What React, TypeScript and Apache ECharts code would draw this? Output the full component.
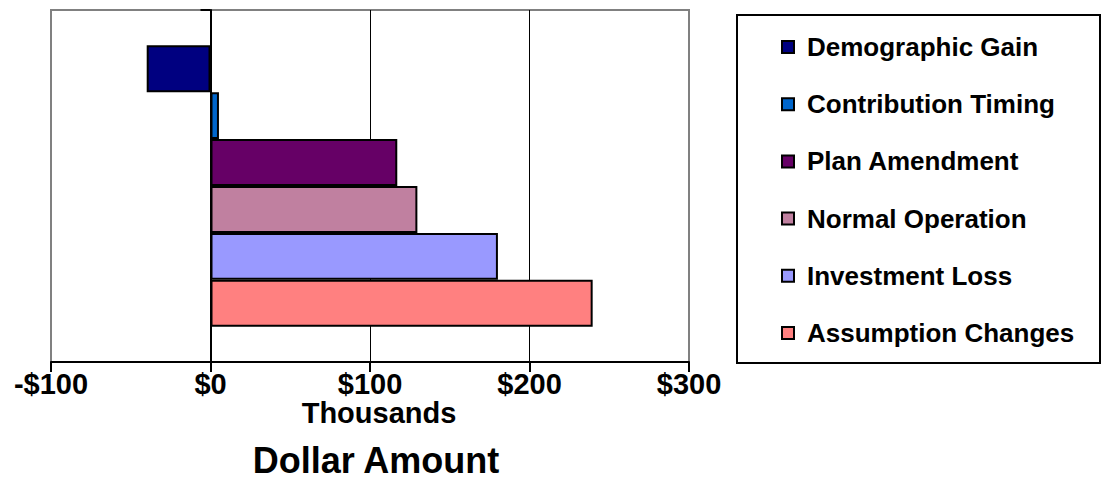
import React, { useEffect, useRef } from "react";
import * as echarts from "echarts";

const seriesNames = [
  "Demographic Gain",
  "Contribution Timing",
  "Plan Amendment",
  "Normal Operation",
  "Investment Loss",
  "Assumption Changes",
];
const seriesValues = [-40, 5.3, 117.1, 129.7, 180.2, 239.6];
const seriesColors = ["#000080", "#0066CC", "#660066", "#C080A0", "#9999FF", "#FF8080"];
const categories = [""];
const xTicks = { min: -100, max: 300, interval: 100 };

const FONT = "Arial, 'Liberation Sans', Helvetica, sans-serif";

export default function App() {
  const ref = useRef<HTMLDivElement>(null);
  useEffect(() => {
    if (!ref.current) return;
    const chart = echarts.init(ref.current, null, { renderer: "svg" });
    chart.setOption({
      animation: false,
      backgroundColor: "#ffffff",
      grid: {
        left: 51,
        top: 10,
        width: 638,
        height: 352,
        show: true,
        borderColor: "#808080",
        borderWidth: 2,
        backgroundColor: "transparent",
      },
      xAxis: {
        type: "value",
        min: xTicks.min,
        max: xTicks.max,
        interval: xTicks.interval,
        axisLine: { show: true, onZero: false, lineStyle: { color: "#000", width: 2 } },
        axisTick: { show: true, length: 10, lineStyle: { color: "#000", width: 2 } },
        splitLine: { show: true, showMinLine: false, showMaxLine: false, lineStyle: { color: "#000", width: 1 } },
        axisLabel: {
          show: true,
          margin: 22,
          verticalAlign: "middle",
          color: "#000",
          fontFamily: FONT,
          fontWeight: "bold",
          fontSize: 29,
          lineHeight: 27,
          formatter: (v: number) => (v < 0 ? "-$" + Math.abs(v) : "$" + v),
        },
      },
      yAxis: {
        type: "category",
        data: categories,
        axisLine: { show: true, onZero: true, lineStyle: { color: "#000", width: 2 } },
        axisTick: { show: true, length: 10, lineStyle: { color: "#000", width: 2 } },
        axisLabel: { show: false },
        splitLine: { show: false },
      },
      legend: {
        orient: "vertical",
        left: 776,
        top: 29,
        itemWidth: 12,
        itemHeight: 12,
        itemGap: 31.2,
        icon: "rect",
        data: seriesNames,
        textStyle: {
          color: "#000",
          fontFamily: FONT,
          fontWeight: "bold",
          fontSize: 26,
          lineHeight: 25,
          padding: [0, 0, 0, 8],
        },
      },
      graphic: [
        {
          type: "rect",
          z: -10,
          shape: { x: 737, y: 15, width: 363, height: 348 },
          style: { fill: "#fff", stroke: "#000", lineWidth: 2 },
        },
        {
          type: "text",
          x: 379,
          y: 413,
          style: {
            text: "Thousands",
            fill: "#000",
            font: `bold 29px ${FONT}`,
            textAlign: "center",
            textVerticalAlign: "middle",
          },
        },
        {
          type: "text",
          x: 376,
          y: 460,
          style: {
            text: "Dollar Amount",
            fill: "#000",
            font: `bold 36px ${FONT}`,
            textAlign: "center",
            textVerticalAlign: "middle",
          },
        },
      ],
      series: seriesNames.map((name, i) => ({
        name,
        type: "bar",
        data: [seriesValues[i]],
        barGap: "0%",
        barCategoryGap: "20%",
        itemStyle: { color: seriesColors[i], borderColor: "#000", borderWidth: 2 },
      })),
    });
    return () => chart.dispose();
  }, []);
  return <div ref={ref} style={{ width: 1107, height: 499, position: "absolute", left: 0, top: 0 }} />;
}
